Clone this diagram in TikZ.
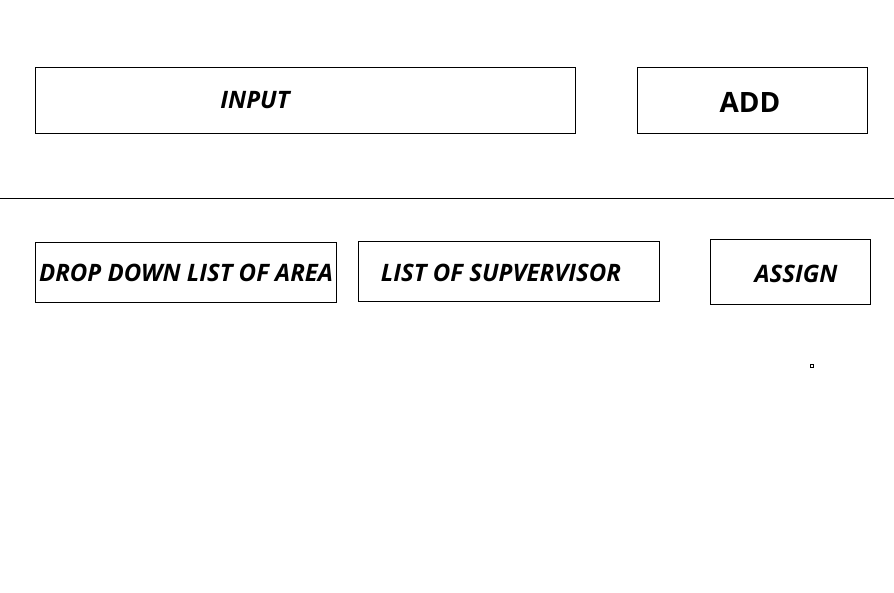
\documentclass[tikz,border=0pt]{standalone}
\usepackage{fontspec}
\setmainfont{Open Sans}
\begin{document}
\begin{tikzpicture}[x=1pt,y=-1pt]
			\tikzset{kasten/.style={rectangle, draw=black, line width=0.8pt, anchor=north west, inner sep=0}}
			\tikzset{schrift/.style={font=\fontsize{24}{27}\selectfont\bfseries\itshape, inner sep=0}}
			\useasboundingbox (0,0) rectangle (894,592);

			% Boxes
			\node[kasten, minimum width=540pt, minimum height=66pt] at (35,67) (input) {};
			\node[kasten, minimum width=230pt, minimum height=66pt] at (637,67) (add) {};
			\node[kasten, minimum width=301pt, minimum height=60pt] at (35,242) (area) {};
			\node[kasten, minimum width=301pt, minimum height=60pt] at (358,241) (supervisor) {};
			\node[kasten, minimum width=160pt, minimum height=65pt] at (710,239) (assign) {};

			% Texts
			\node[schrift] at (255,100) (inputtext) {INPUT};
			\node[font=\fontsize{28}{31}\selectfont\bfseries, inner sep=0] at (750,102) (addtext) {ADD};
			\node[schrift] at (186,273) (areatext) {DROP DOWN LIST OF AREA};
			\node[schrift] at (501,273) (supervisortext) {LIST OF SUPVERVISOR};
			\node[schrift] at (796,274) (assigntext) {ASSIGN};

			% Divider
			\coordinate (l) at (0,198);
			\coordinate (r) at (894,198);
			\draw[line width=0.8pt] (l) -- (r);

			% Small square
			\node[draw=black, line width=0.6pt, minimum size=3pt, inner sep=0] at (811.5,365.5) (dot) {};
		\end{tikzpicture}
\end{document}
